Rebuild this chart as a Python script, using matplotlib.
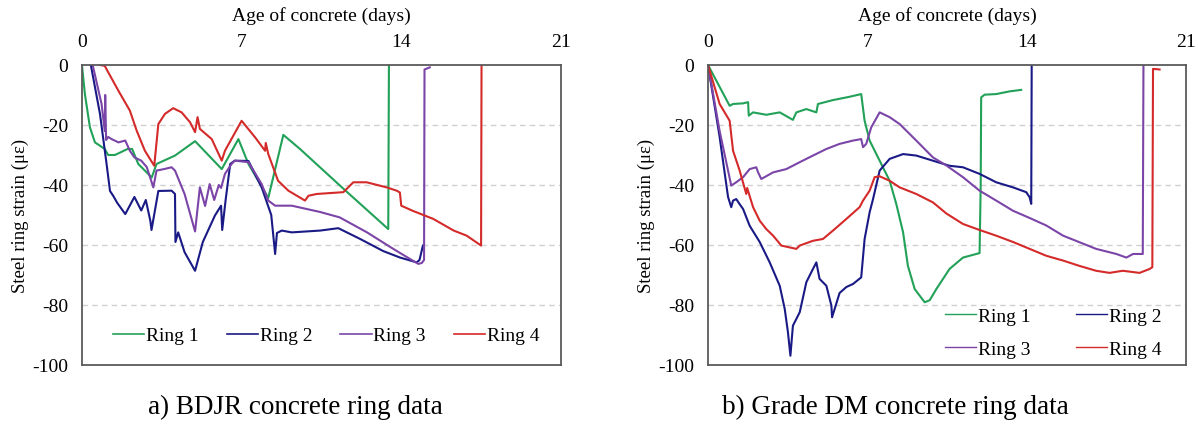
import matplotlib
matplotlib.use("Agg")
import matplotlib.pyplot as plt

plt.rcParams["font.family"] = ["Liberation Serif", "DejaVu Serif"]
plt.rcParams["axes.unicode_minus"] = False

# -----------------------------
# a) BDJR concrete ring data (days, strain in micro-strain)
# -----------------------------
bdjr_r1_days = [0, 0.13, 0.35, 0.57, 1.0, 1.15, 1.45, 2.0, 2.2, 2.47, 3.06, 3.27, 4.08,
                4.96, 6.13, 6.86, 7.3, 8.17, 8.83, 9.56, 11.5, 13.43, 13.46]
bdjr_r1_strain = [0, -9.7, -20.8, -25.8, -28, -30, -30, -28, -28, -33, -37.5, -33, -30.2,
                  -25.4, -34.7, -24.7, -33, -44.3, -23.3, -28, -41.5, -54.7, 0]

bdjr_r2_days = [0.39, 0.79, 1.08, 1.23, 1.37, 1.55, 1.9, 2.3, 2.6, 2.8, 3.0, 3.05, 3.35, 3.93,
                4.08, 4.1, 4.22, 4.5, 4.96, 5.3, 5.83, 6.1, 6.15, 6.3, 6.5, 6.7, 7.3, 7.88,
                8.3, 8.47, 8.55, 8.76, 9.2, 10.44, 11.24, 12.2, 13.2, 13.95, 14.68, 14.8, 14.95]
bdjr_r2_strain = [0, -16.3, -33, -42, -43.6, -46, -49.7, -44, -48.5, -45, -52, -55, -42, -41.9,
                  -43, -59, -55.8, -62.4, -68.6, -59, -50.2, -46.9, -55, -45, -33, -31.9, -32, -40.8,
                  -50, -63, -56, -55.2, -55.8, -55.2, -54.4, -58, -62, -64.2, -65.8, -65, -60.2]

bdjr_r3_days = [0.47, 0.86, 1.0, 1.02, 1.06, 1.15, 1.3, 1.6, 1.9, 2.1, 2.3, 2.6, 2.84, 3.13, 3.27,
                3.6, 3.93, 4.08, 4.5, 4.96, 5.17, 5.4, 5.6, 5.8, 6.0, 6.1, 6.27, 6.56, 6.7,
                7.3, 7.88, 8.17, 8.47, 9.2, 10.44, 11.3, 12.5, 13.65, 14.5, 14.75, 14.9,
                15.0, 15.02, 15.25]
bdjr_r3_strain = [0, -13, -22, -10, -25, -24, -24.7, -25.8, -25.2, -28.6, -30.8, -31.9, -34, -40.8, -35.2,
                  -34.7, -34.1, -35.2, -43, -55.5, -40.8, -47, -39.7, -45, -40, -41, -36.3, -33, -31.9,
                  -32.4, -39.7, -45.2, -46.9, -46.9, -49, -50.8, -55.8, -61.3, -65.2, -66.3, -66,
                  -65, -1.5, -0.8]

bdjr_r4_days = [0.79, 1.0, 1.15, 1.6, 2.1, 2.4, 2.76, 3.17, 3.35, 3.64, 4.0, 4.37, 4.74, 4.96,
                5.07, 5.17, 5.69, 6.13, 6.27, 7.0, 7.59, 8.03, 8.06, 8.17, 8.6, 9.05, 9.78, 9.93,
                10.29, 11.46, 11.9, 12.48, 13.36, 13.8, 13.94, 14.0, 14.5, 15.4, 16.3, 16.87,
                17.5, 17.52]
bdjr_r4_strain = [0, -0.3, -2.4, -8.6, -15.2, -21.9, -28.6, -33.6, -19.7, -16.3, -14.4, -15.8, -19.1, -22.4,
                  -17.4, -21.3, -24.7, -31.9, -28.6, -18.6, -24.1, -28.6, -26, -29.7, -38.6, -41.9, -45.2, -43.6,
                  -43, -42.4, -39.1, -39.1, -40.8, -41.9, -42.5, -46.9, -48.6, -51.3, -55.2, -56.9,
                  -60.2, 0]

# -----------------------------
# b) Grade DM concrete ring data
# -----------------------------
dm_r1_days = [0, 0.95, 1.1, 1.54, 1.76, 1.79, 1.98, 2.56, 3.15, 3.73, 3.88, 4.32, 4.76, 4.83,
              5.49, 6.22, 6.73, 6.88, 7.1, 7.54, 7.98, 8.27, 8.57, 8.78, 9.08, 9.52, 9.74,
              10.03, 10.61, 11.2, 11.93, 11.98, 12.0, 12.15, 12.66, 13.25, 13.76]
dm_r1_strain = [0, -13.6, -13, -12.8, -12.4, -16.9, -15.8, -16.6, -15.8, -18.3, -15.8, -14.7, -15.8, -13,
                -11.7, -10.6, -9.7, -18.6, -25.2, -31.9, -38.6, -46.3, -55.8, -66.9, -74.7, -79.1, -78.4,
                -74.7, -68, -64.2, -62.7, -40, -10.8, -9.9, -9.7, -8.8, -8.3]

dm_r2_days = [0, 0.51, 0.88, 1.02, 1.1, 1.24, 1.39, 1.54, 1.83, 2.27, 2.71, 3.15, 3.37, 3.51,
              3.62, 3.73, 4.03, 4.32, 4.61, 4.76, 4.9, 5.2, 5.42, 5.45, 5.78, 6.08, 6.37, 6.73,
              6.88, 7.1, 7.25, 7.54, 7.98, 8.57, 9.15, 9.88, 10.61, 11.2, 11.93, 12.66, 13.4,
              13.98, 14.13, 14.2, 14.22]
dm_r2_strain = [0, -24, -44, -47.4, -45.2, -44.7, -46.4, -48, -53.6, -59, -65.8, -73.6, -81.3, -89,
                -96.9, -86.9, -82.4, -72.4, -68, -65.8, -71.3, -73.6, -80.2, -84.1, -76, -74, -73, -70.8,
                -58, -49.1, -44.7, -35.2, -31.3, -29.7, -30.2, -31.9, -33.6, -34.1, -36.3, -39.1, -40.8,
                -42.4, -44.1, -46.3, 0]

dm_r3_days = [0, 0.51, 1.02, 1.24, 1.54, 1.83, 2.12, 2.2, 2.34, 2.86, 3.44, 4.03, 4.61, 5.2,
              5.78, 6.37, 6.73, 6.81, 6.95, 7.17, 7.54, 7.98, 8.42, 9.15, 9.88, 10.47, 11.2,
              11.93, 12.66, 13.4, 14.13, 14.86, 15.6, 17.05, 17.94, 18.38, 18.67, 19.1, 19.13]
dm_r3_strain = [0, -22, -40.2, -39.1, -37.4, -34.7, -34.1, -35.8, -38, -35.8, -34.7, -32.4, -30.2, -28,
                -26.3, -25.2, -24.7, -27.4, -26.3, -20.8, -15.8, -17.4, -19.7, -25.2, -30.8, -33.5, -37.4,
                -41.9, -45.2, -48.6, -51, -53.5, -56.9, -61.3, -63, -64.2, -63, -63, 0]

dm_r4_days = [0, 0.51, 0.95, 1.1, 1.39, 1.68, 1.72, 1.98, 2.27, 2.56, 2.86, 3.22, 3.88, 4.03,
              4.61, 5.05, 5.49, 6.08, 6.66, 6.81, 7.1, 7.32, 7.54, 7.98, 8.42, 9.15, 9.88,
              10.47, 11.2, 11.93, 12.66, 13.4, 14.13, 14.86, 15.6, 16.33, 17.05, 17.64, 18.22,
              18.96, 19.4, 19.52, 19.55, 19.84]
dm_r4_strain = [0, -13, -18.6, -28.6, -35.2, -43, -41, -47.4, -51.9, -54.7, -56.9, -60.2, -61.3, -60.2,
                -58.6, -58, -55.2, -51.3, -47.4, -45.2, -41.9, -37.4, -37.1, -38.6, -40.8, -43, -45.8,
                -49.5, -53, -55, -56.9, -59, -61.3, -63.6, -65.2, -67, -68.6, -69.3, -68.6,
                -69.3, -68, -67.4, -1.3, -1.5]

ring_labels = ["Ring 1", "Ring 2", "Ring 3", "Ring 4"]
ring_colors = ["#22a158", "#1a1a86", "#7b45a8", "#d42a2a"]

x_ticks = [0, 7, 14, 21]
y_ticks = [0, -20, -40, -60, -80, -100]


def style_axes(ax):
    ax.set_xlim(0, 21)
    ax.set_ylim(-100, 0)
    ax.xaxis.tick_top()
    ax.xaxis.set_label_position("top")
    ax.set_xticks(x_ticks)
    ax.set_yticks(y_ticks)
    ax.tick_params(length=0, labelsize=14)
    ax.tick_params(axis="x", pad=11)
    ax.tick_params(axis="y", pad=10)
    ax.set_xlabel("Age of concrete (days)", fontsize=14, labelpad=9)
    ax.set_ylabel("Steel ring strain (\u03bc\u03b5)", fontsize=13.5, labelpad=2)
    for y in [-20, -40, -60, -80]:
        ax.axhline(y, color="#d0d0d0", lw=1, ls=(0, (4, 3)), zorder=0)
    for s in ax.spines.values():
        s.set_color("#5a5a5a")
        s.set_linewidth(1.3)


fig = plt.figure(figsize=(11.98, 4.27), dpi=100)
ax1 = fig.add_axes([0.0684, 0.1429, 0.3998, 0.7026])
ax2 = fig.add_axes([0.591, 0.1429, 0.399, 0.7026])

left_series = [(bdjr_r1_days, bdjr_r1_strain), (bdjr_r2_days, bdjr_r2_strain),
               (bdjr_r3_days, bdjr_r3_strain), (bdjr_r4_days, bdjr_r4_strain)]
right_series = [(dm_r1_days, dm_r1_strain), (dm_r2_days, dm_r2_strain),
                (dm_r3_days, dm_r3_strain), (dm_r4_days, dm_r4_strain)]

for (d, s), lab, c in zip(left_series, ring_labels, ring_colors):
    ax1.plot(d, s, color=c, lw=1.5, label=lab)
right_lines = []
for (d, s), lab, c in zip(right_series, ring_labels, ring_colors):
    right_lines += ax2.plot(d, s, color=c, lw=1.5, label=lab)

style_axes(ax1)
style_axes(ax2)

leg1 = ax1.legend(loc="lower center", bbox_to_anchor=(0.51, 0.01), ncol=4, frameon=False,
                  fontsize=14, handlelength=1.6, handletextpad=0.1, columnspacing=1.45)
for h in leg1.get_lines():
    h.set_linewidth(1.2)

# row-wise order: Ring 1, Ring 2 / Ring 3, Ring 4
order = [0, 2, 1, 3]
leg2 = ax2.legend([right_lines[i] for i in order], [ring_labels[i] for i in order],
                  loc="lower right", bbox_to_anchor=(0.985, -0.035), ncol=2, frameon=False,
                  fontsize=14, handlelength=1.6, handletextpad=0.1, columnspacing=2.3,
                  labelspacing=0.8)
for h in leg2.get_lines():
    h.set_linewidth(1.0)

fig.text(0.2465, 0.045, "a) BDJR concrete ring data", ha="center", va="center", fontsize=19.5)
fig.text(0.747, 0.045, "b) Grade DM concrete ring data", ha="center", va="center", fontsize=19.5)

fig.savefig("out.png", dpi=100)
